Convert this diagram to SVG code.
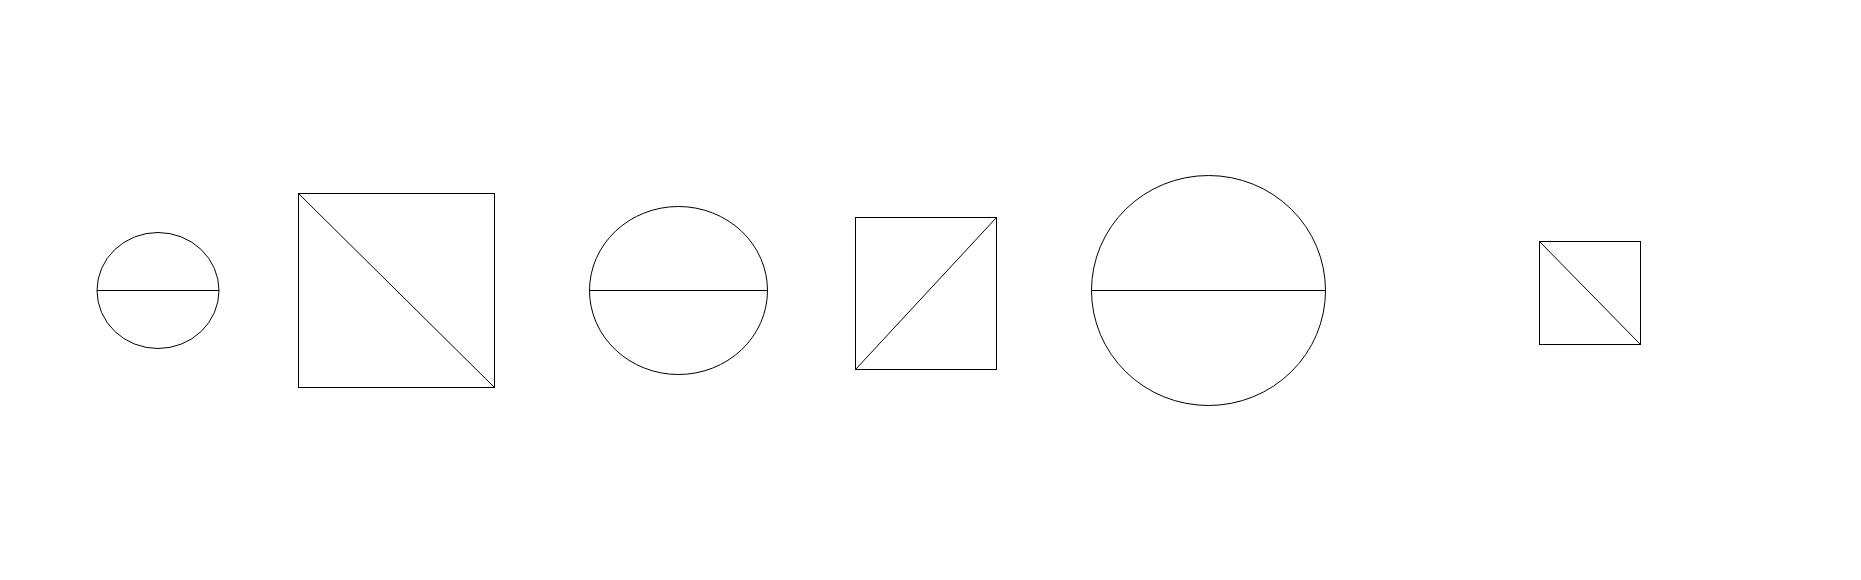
<svg xmlns="http://www.w3.org/2000/svg" width="1861" height="580" viewBox="0 0 1861 580">
<style>
.s{fill:none;stroke:#000;stroke-width:1}
</style>
<rect width="1861" height="580" fill="#fff"/>
<g id="node1"><ellipse class="s" cx="158" cy="290.5" rx="61" ry="58"/><line class="s" x1="97" y1="290.5" x2="219" y2="290.5"/></g>
<g id="node2"><rect class="s" x="298.5" y="193.5" width="196" height="194"/><line class="s" x1="298.5" y1="193.5" x2="494.5" y2="387.5"/></g>
<g id="node3"><ellipse class="s" cx="678.5" cy="290.5" rx="89" ry="84"/><line class="s" x1="589.5" y1="290.5" x2="767.5" y2="290.5"/></g>
<g id="node4"><rect class="s" x="855.5" y="217.5" width="141" height="152"/><line class="s" x1="855.5" y1="369.5" x2="996.5" y2="217.5"/></g>
<g id="node5"><ellipse class="s" cx="1208.5" cy="290.5" rx="117" ry="115"/><line class="s" x1="1091.5" y1="290.5" x2="1325.5" y2="290.5"/></g>
<g id="node6"><rect class="s" x="1539.5" y="241.5" width="101" height="103"/><line class="s" x1="1539.5" y1="241.5" x2="1640.5" y2="344.5"/></g>
<g id="connectors"></g>
</svg>
